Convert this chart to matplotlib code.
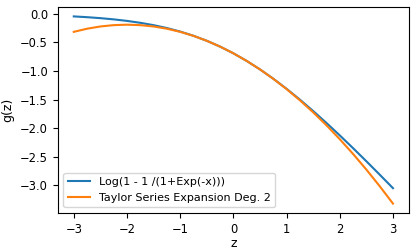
import matplotlib
matplotlib.use("Agg")
import matplotlib.pyplot as plt

z = [-3.0, -2.75, -2.5, -2.25, -2.0, -1.75, -1.5, -1.25, -1.0, -0.75, -0.5, -0.25,
     0.0, 0.25, 0.5, 0.75, 1.0, 1.25, 1.5, 1.75, 2.0, 2.25, 2.5, 2.75, 3.0]

g_exacta = [-0.0486, -0.0620, -0.0789, -0.1002, -0.1269, -0.1602, -0.2014, -0.2519,
            -0.3133, -0.3869, -0.4741, -0.5759, -0.6931, -0.8259, -0.9741, -1.1369,
            -1.3133, -1.5019, -1.7014, -1.9102, -2.1269, -2.3502, -2.5789, -2.8120,
            -3.0486]

g_taylor = [-0.3181, -0.2634, -0.2244, -0.2009, -0.1931, -0.2009, -0.2244, -0.2634,
            -0.3181, -0.3884, -0.4744, -0.5759, -0.6931, -0.8259, -0.9744, -1.1384,
            -1.3181, -1.5134, -1.7244, -1.9509, -2.1931, -2.4509, -2.7244, -3.0134,
            -3.3181]

plt.rcParams["font.size"] = 8

fig, ax = plt.subplots(figsize=(4.16, 2.52), dpi=100)
ax.plot(z, g_exacta, label="Log(1 - 1 /(1+Exp(-x)))")
ax.plot(z, g_taylor, label="Taylor Series Expansion Deg. 2")
ax.set_xlabel("z", fontsize=9, labelpad=1)
ax.set_ylabel("g(z)", fontsize=9)
ax.tick_params(labelsize=8.3)
ax.legend(loc="lower left")
fig.subplots_adjust(left=0.139, right=0.983, top=0.972, bottom=0.155)
fig.savefig("out.png")
